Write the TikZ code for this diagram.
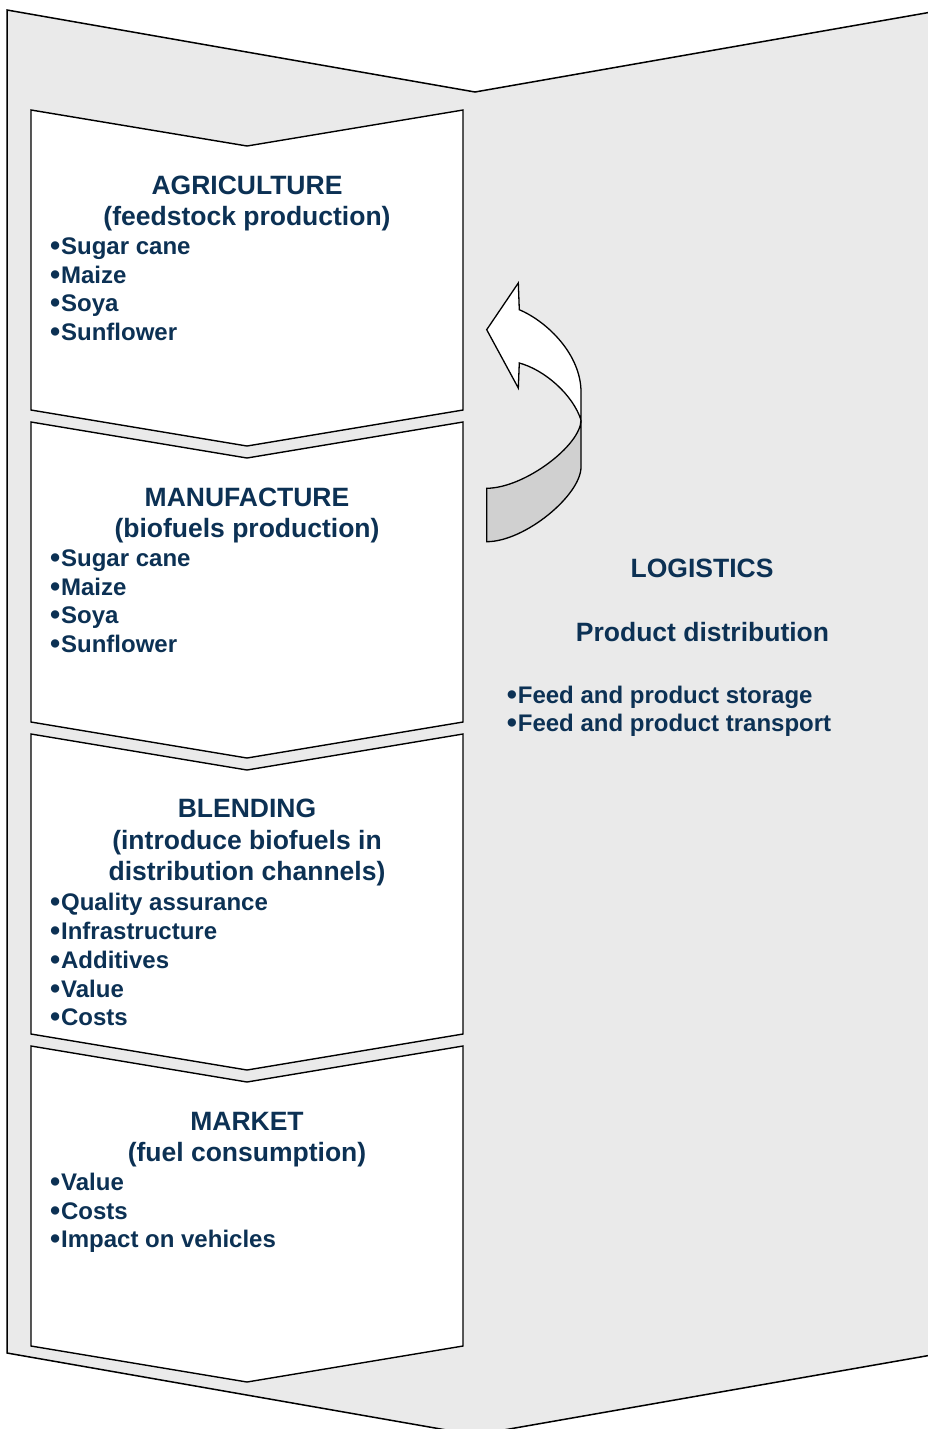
\documentclass[tikz,border=0pt]{standalone}
\usepackage{fontspec}
\setmainfont{Liberation Sans}
\definecolor{navy}{RGB}{12,49,84}
\definecolor{bgray}{RGB}{234,234,234}
\definecolor{agray}{RGB}{208,208,208}
\newcommand\bulletmark{\raisebox{-1pt}{\fontsize{29}{29}\selectfont •}\kern0.8pt}
\begin{document}
\begin{tikzpicture}[x=1pt,y=-1pt,line join=miter,
  title/.style={font=\fontsize{26.5}{31}\selectfont\bfseries,text=navy,anchor=base,inner sep=0pt},
  item/.style={font=\fontsize{24}{28}\selectfont\bfseries,text=navy,anchor=base west,inner sep=0pt},
  stagebox/.style={draw=black,line width=1.4pt,fill=white},
  outline/.style={draw=black,line width=1.5pt}]
\useasboundingbox (0,0) rectangle (928,1429);
\clip (0,0) rectangle (928,1429);
% outer logistics chevron
\draw[outline,fill=bgray] (7,10) -- (475,92) -- (943,10) -- (943,1353) -- (475,1435) -- (7,1353) -- cycle;
% stage chevrons
\foreach \t in {110,422,734,1046}{
  \draw[stagebox] (31,\t) -- (247,\t+36) -- (463,\t) -- (463,\t+300) -- (247,\t+336) -- (31,\t+300) -- cycle;
}
% curved arrow
\draw[outline,line width=1.3pt,fill=white] (486.7,329.7) -- (518.3,283) -- (519.3,309.7)
  .. controls (548,322) and (581,355) .. (581,392) -- (581,420)
  .. controls (573,395) and (545,370) .. (519.3,363) -- (518.3,388) -- cycle;
\draw[outline,line width=1.3pt,fill=agray] (486.7,488.3)
  .. controls (525,488) and (581,445) .. (581,420) -- (581,467)
  .. controls (581,495) and (525,541.7) .. (486.7,541.7) -- cycle;
% AGRICULTURE
\node[title] (a1) at (247,194) {AGRICULTURE};
\node[title] (a2) at (247,225) {(feedstock production)};
\node[item] (a3) at (50,254.3) {\bulletmark Sugar cane};
\node[item] (a4) at (50,283) {\bulletmark Maize};
\node[item] (a5) at (50,311.7) {\bulletmark Soya};
\node[item] (a6) at (50,340) {\bulletmark Sunflower};
% MANUFACTURE
\node[title] (m1) at (247,506) {MANUFACTURE};
\node[title] (m2) at (247,537) {(biofuels production)};
\node[item] (m3) at (50,566.3) {\bulletmark Sugar cane};
\node[item] (m4) at (50,595) {\bulletmark Maize};
\node[item] (m5) at (50,623.7) {\bulletmark Soya};
\node[item] (m6) at (50,652) {\bulletmark Sunflower};
% BLENDING
\node[title] (b1) at (247,817.7) {BLENDING};
\node[title] (b2) at (247,849) {(introduce biofuels in};
\node[title] (b3) at (247,880.7) {distribution channels)};
\node[item] (b4) at (50,910.7) {\bulletmark Quality assurance};
\node[item] (b5) at (50,939.5) {\bulletmark Infrastructure};
\node[item] (b6) at (50,968.3) {\bulletmark Additives};
\node[item] (b7) at (50,997.2) {\bulletmark Value};
\node[item] (b8) at (50,1025.5) {\bulletmark Costs};
% MARKET
\node[title] (k1) at (247,1130) {MARKET};
\node[title] (k2) at (247,1161) {(fuel consumption)};
\node[item] (k3) at (50,1190.3) {\bulletmark Value};
\node[item] (k4) at (50,1219) {\bulletmark Costs};
\node[item] (k5) at (50,1247.3) {\bulletmark Impact on vehicles};
% LOGISTICS
\node[title] (l1) at (702,577.5) {LOGISTICS};
\node[title] (l2) at (702.5,641.7) {Product distribution};
\node[item] (l3) at (506.7,703.3) {\bulletmark Feed and product storage};
\node[item] (l4) at (506.7,731.7) {\bulletmark Feed and product transport};
\end{tikzpicture}
\end{document}
